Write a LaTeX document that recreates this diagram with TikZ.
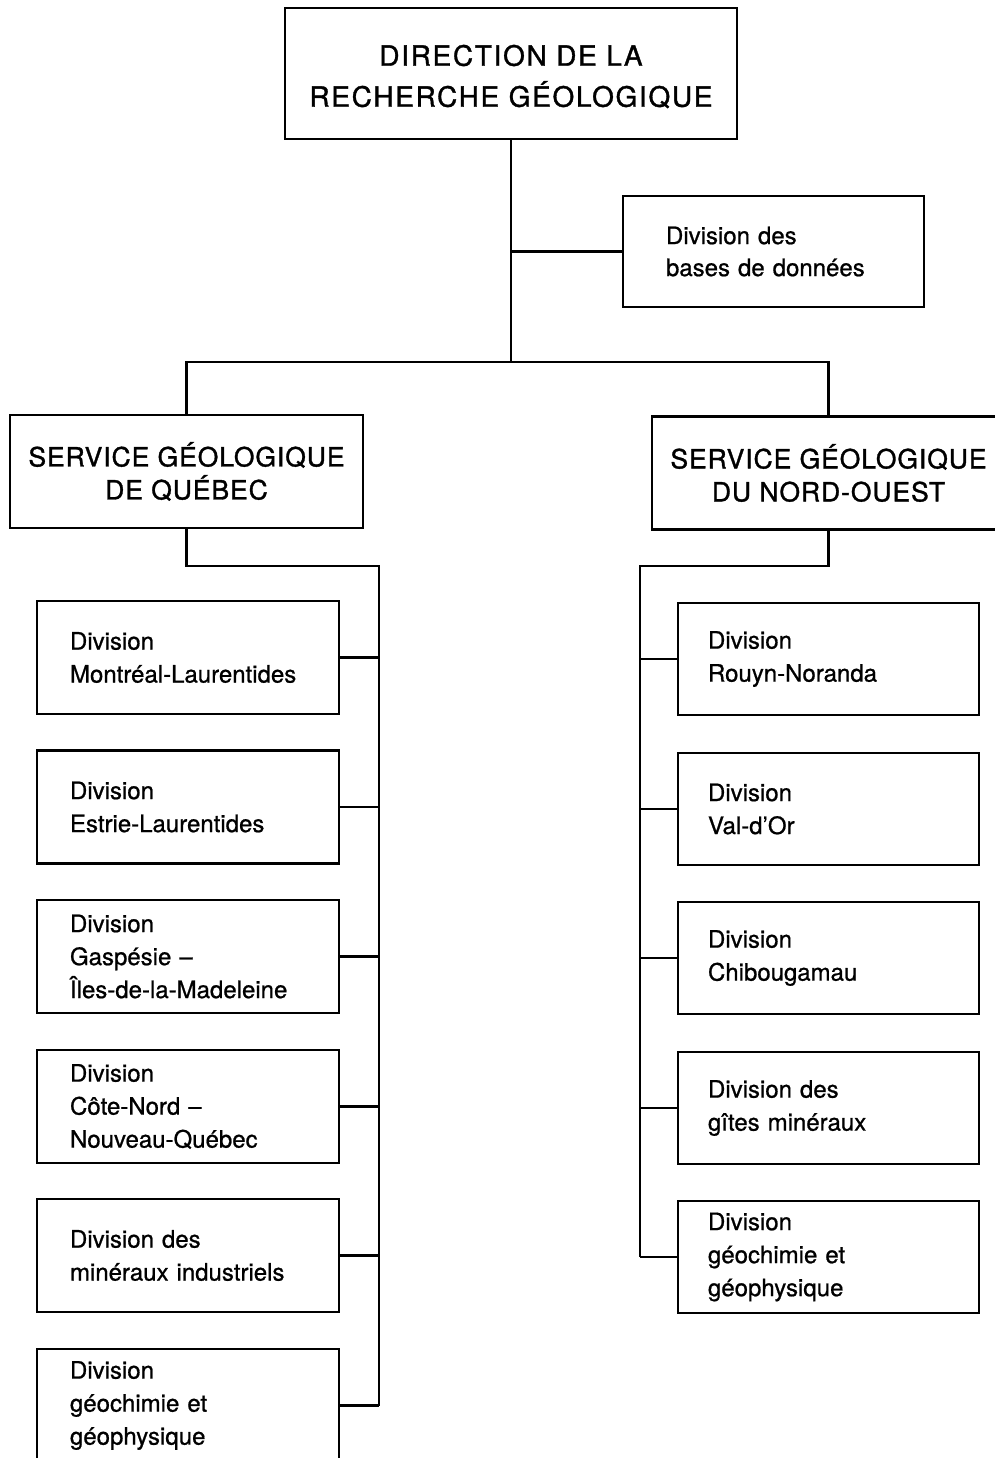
\documentclass[tikz,border=0pt]{standalone}
\usepackage{fontspec}
\setmainfont[FakeBold=0.8]{TeX Gyre Heros}
\newfontfamily\capsfont[LetterSpace=3.5,FakeBold=1.2]{TeX Gyre Heros}
\newfontfamily\topcapsfont[LetterSpace=6,FakeBold=1.2]{TeX Gyre Heros}
\begin{document}
\begin{tikzpicture}[x=1pt,y=-1pt,line width=2.6pt,
  topbox/.style={draw,minimum width=452pt,minimum height=131pt,inner sep=0pt,align=center,
    font=\topcapsfont\fontsize{28}{41}\selectfont},
  servbox/.style={draw,minimum width=353pt,minimum height=113pt,inner sep=0pt,align=center,
    font=\capsfont\fontsize{26.5}{33}\selectfont},
  basebox/.style={draw,text width=215pt,inner xsep=43pt,inner ysep=0pt,minimum height=111pt,align=left,
    font=\fontsize{24}{32}\selectfont},
  ldiv/.style={draw,text width=236pt,inner xsep=33pt,inner ysep=0pt,minimum height=113pt,align=left,
    font=\fontsize{24}{33}\selectfont},
  rdiv/.style={draw,text width=241pt,inner xsep=30pt,inner ysep=0pt,minimum height=112pt,align=left,
    font=\fontsize{24}{33}\selectfont},
  link/.style={draw,line width=2.6pt}]
\useasboundingbox (0,0) rectangle (995,1458);
\clip (0,0) rectangle (995,1458);
\fill[white] (0,0) rectangle (995,1458);
% nodes
\node[topbox,text height=68pt] (dir) at (511,73.5) {DIRECTION DE LA\\RECHERCHE GÉOLOGIQUE};
\node[basebox] (bases) at (773.5,251.5) {Division des\\bases de données};
\node[servbox] (sq) at (186.5,471.5) {SERVICE GÉOLOGIQUE\\DE QUÉBEC};
\node[servbox] (sno) at (828.5,473) {SERVICE GÉOLOGIQUE\\DU NORD-OUEST};
\node[ldiv] (l1) at (188,657.5) {Division\\Montréal-Laurentides};
\node[ldiv] (l2) at (188,807) {Division\\Estrie-Laurentides};
\node[ldiv] (l3) at (188,956.5) {Division\\Gaspésie –\\Îles-de-la-Madeleine};
\node[ldiv] (l4) at (188,1106.5) {Division\\Côte-Nord –\\Nouveau-Québec};
\node[ldiv] (l5) at (188,1255.5) {Division des\\minéraux industriels};
\node[ldiv] (l6) at (188,1405.5) {Division\\géochimie et\\géophysique};
\node[rdiv] (r1) at (828.5,659) {Division\\Rouyn-Noranda};
\node[rdiv] (r2) at (828.5,809) {Division\\Val-d’Or};
\node[rdiv] (r3) at (828.5,958) {Division\\Chibougamau};
\node[rdiv] (r4) at (828.5,1108) {Division des\\gîtes minéraux};
\node[rdiv] (r5) at (828.5,1257) {Division\\géochimie et\\géophysique};
% connectors
\coordinate (hub) at (511,362);
\coordinate (basej) at (511,251.5);
\coordinate (lq) at (379,566);
\coordinate (rq) at (640,566);
\draw[link] (dir.south) -- (hub);
\draw[link] (basej) -- (bases.west);
\draw[link] (sq.north) |- (hub) -| (sno.north);
\draw[link] (sq.south) |- (lq) -- (lq |- l6.east);
\draw[link] (sno.south) |- (rq) -- (rq |- r5.west);
\foreach \n in {l1,l2,l3,l4,l5,l6} \draw[link] (\n.east) -- (lq |- \n.east);
\foreach \n in {r1,r2,r3,r4,r5} \draw[link] (\n.west) -- (rq |- \n.west);
\end{tikzpicture}
\end{document}
